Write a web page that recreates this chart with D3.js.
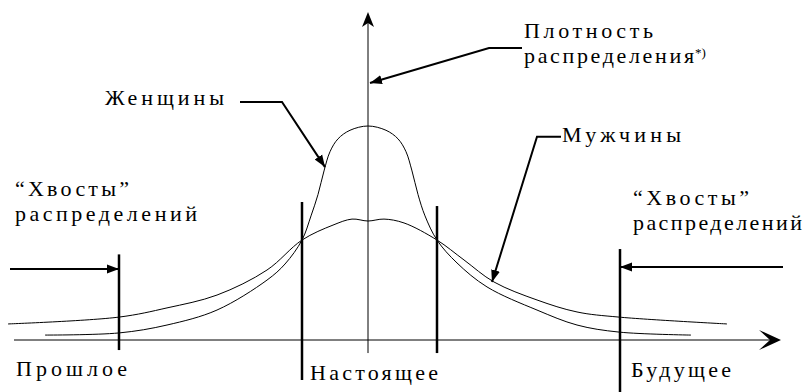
<!DOCTYPE html>
<html>
<head>
<meta charset="utf-8">
<script src="https://cdn.jsdelivr.net/npm/d3@7"></script>
<style>
  body { margin: 0; background: #fff; }
</style>
</head>
<body>
<div id="chart"></div>
<script>
// time axis: 0 = present; density: women peak = 1
const womenT = [-32.3, -24.9, -20.1, -15.1, -10.1, -8.3, -6.6, -5.7, -5.0, -4.4, -3.8, -3.0, -1.8, 0, 1.8, 3.0, 3.8, 4.4, 5.0, 5.7, 6.9, 8.9, 11.9, 16.9, 20.9, 25.1, 32.3];
const womenD = [0.023, 0.033, 0.070, 0.140, 0.280, 0.355, 0.467, 0.580, 0.680, 0.790, 0.880, 0.940, 0.980, 1.0, 0.980, 0.940, 0.880, 0.790, 0.680, 0.580, 0.467, 0.360, 0.248, 0.140, 0.070, 0.037, 0.023];

const menT = [-36.0, -24.9, -20.1, -15.1, -10.1, -6.6, -3.5, -1.6, 0, 1.6, 3.6, 6.9, 9.6, 12.6, 16.9, 20.9, 25.1, 35.9];
const menD = [0.075, 0.107, 0.150, 0.210, 0.327, 0.467, 0.537, 0.565, 0.556, 0.565, 0.547, 0.467, 0.374, 0.271, 0.187, 0.131, 0.107, 0.075];

// boundaries: past, present (left/right), future
const cutT = [-24.9, -6.6, 6.9, 25.2];
const cutTop = [0.40, 0.645, 0.626, 0.425];
const cutBottom = [-0.047, -0.187, -0.061, -0.243];

const width = 808, height = 392;

const x = d3.scaleLinear().domain([-36.8, 44]).range([0, 808]);
const y = d3.scaleLinear().domain([0, 1]).range([340, 126]);

const svg = d3.select("#chart").append("svg")
    .attr("width", width)
    .attr("height", height);

const defs = svg.append("defs");
defs.append("marker")
    .attr("id", "tri")
    .attr("viewBox", "0 -5 12 10")
    .attr("refX", 12).attr("refY", 0)
    .attr("markerWidth", 12).attr("markerHeight", 10)
    .attr("markerUnits", "userSpaceOnUse")
    .attr("orient", "auto")
  .append("path")
    .attr("d", "M0,-4.5L12,0L0,4.5Z")
    .attr("fill", "#000");

// axes
svg.append("line")
    .attr("x1", x(-35.4)).attr("x2", x(41.1))
    .attr("y1", y(0)).attr("y2", y(0))
    .attr("stroke", "#000").attr("stroke-width", 1);
svg.append("path")
    .attr("d", `M${x(41.3)},${y(0)}l-22,-10l11,10l-11,10Z`)
    .attr("fill", "#000");

svg.append("line")
    .attr("x1", x(0)).attr("x2", x(0))
    .attr("y1", y(-0.061)).attr("y2", y(1.5))
    .attr("stroke", "#000").attr("stroke-width", 1);
svg.append("path")
    .attr("d", `M${x(0)},${y(1.533)}l-6,15l6,-4l6,4Z`)
    .attr("fill", "#000");

// density curves
const line = d3.line()
    .x(d => x(d[0]))
    .y(d => y(d[1]))
    .curve(d3.curveCatmullRom.alpha(0.5));

svg.append("path")
    .datum(d3.zip(menT, menD))
    .attr("d", line)
    .attr("fill", "none").attr("stroke", "#000").attr("stroke-width", 1);

svg.append("path")
    .datum(d3.zip(womenT, womenD))
    .attr("d", line)
    .attr("fill", "none").attr("stroke", "#000").attr("stroke-width", 1);

// boundary bars
svg.selectAll("line.cut")
  .data(cutT)
  .join("line")
    .attr("class", "cut")
    .attr("x1", d => x(d)).attr("x2", d => x(d))
    .attr("y1", (d, i) => y(cutTop[i]))
    .attr("y2", (d, i) => y(cutBottom[i]))
    .attr("stroke", "#000").attr("stroke-width", 2.5);

// leaders and arrows
const leaders = [
  [[-35.8, 0.332], [cutT[0], 0.332]],
  [[41.5, 0.341], [cutT[3], 0.341]],
  [[-12.8, 1.112], [-8.6, 1.112], [-4.3, 0.808]],
  [[15.4, 1.364], [12.1, 1.364], [0.2, 1.201]],
  [[19.3, 0.950], [16.9, 0.950], [12.4, 0.271]]
];
svg.selectAll("path.leader")
  .data(leaders)
  .join("path")
    .attr("class", "leader")
    .attr("d", d3.line().x(d => x(d[0])).y(d => y(d[1])))
    .attr("fill", "none").attr("stroke", "#000").attr("stroke-width", 2)
    .attr("marker-end", "url(#tri)");

// labels (text stretched with spaced letters like the original)
const labels = [
  {t: "Женщины", x: 105, y: 105, w: 119},
  {t: "Плотность", x: 524, y: 38, w: 129},
  {t: "распределения", x: 524, y: 63, w: 170},
  {t: "Мужчины", x: 562, y: 142, w: 119},
  {t: "“Хвосты”", x: 15, y: 196, w: 114},
  {t: "распределений", x: 15, y: 221, w: 182},
  {t: "“Хвосты”", x: 633, y: 205, w: 116},
  {t: "распределений", x: 633, y: 230, w: 169},
  {t: "Прошлое", x: 16, y: 376, w: 111},
  {t: "Настоящее", x: 310, y: 380, w: 128},
  {t: "Будущее", x: 631, y: 377, w: 100}
];
svg.selectAll("text.lbl")
  .data(labels)
  .join("text")
    .attr("class", "lbl")
    .attr("x", d => d.x).attr("y", d => d.y)
    .attr("font-family", "'Liberation Serif'")
    .attr("font-size", 22)
    .attr("textLength", d => d.w)
    .attr("lengthAdjust", "spacing")
    .attr("fill", "#000")
    .text(d => d.t);

svg.append("text")
    .attr("x", 695).attr("y", 57)
    .attr("font-family", "'Liberation Serif'")
    .attr("font-size", 13)
    .attr("fill", "#000")
    .text("*)");
</script>
</body>
</html>
